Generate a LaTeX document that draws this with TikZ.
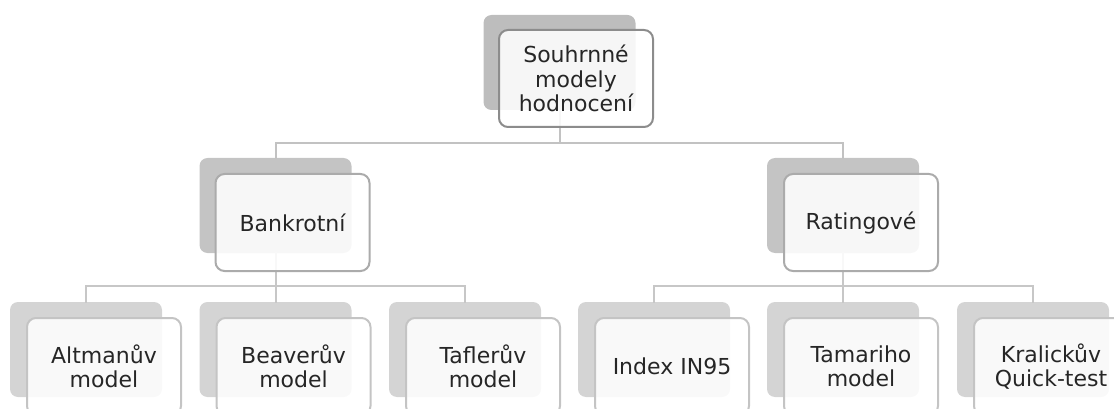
\documentclass[tikz,border=0pt]{standalone}
\usepackage{fontspec}
\setmainfont{DejaVu Sans}
\begin{document}
\begin{tikzpicture}[x=1pt,y=-1pt,
  back/.style={rectangle,rounded corners=8pt,minimum width=152pt,minimum height=95pt,inner sep=0pt},
  back0/.style={back,fill=black!26},
  back1/.style={back,fill=black!23},
  back2/.style={back,fill=black!17},
  card/.style={rectangle,rounded corners=9pt,minimum width=154pt,minimum height=97pt,inner sep=2pt,
    line width=2pt,fill=white,fill opacity=0.88,text opacity=1,text=black!85,align=center,
    font=\fontsize{22}{24.5}\selectfont},
  card0/.style={card,draw=black!45},
  card1/.style={card,draw=black!33},
  card2/.style={card,draw=black!23},
  link/.style={line width=2pt,line cap=rect},
  link0/.style={link,draw=black!24},
  link1/.style={link,draw=black!22},
]
\path[use as bounding box] (0,0) rectangle (1114,409);

% shadow plates
\node[back0] (s0) at (559.5,62.5) {};
\node[back1] (s1) at (275.5,205.5) {};
\node[back1] (s2) at (843,205.5) {};
\node[back2] (s11) at (86,349.5) {};
\node[back2] (s12) at (275.5,349.5) {};
\node[back2] (s13) at (465,349.5) {};
\node[back2] (s21) at (654,349.5) {};
\node[back2] (s22) at (843,349.5) {};
\node[back2] (s23) at (1033,349.5) {};

% bus lines
\coordinate (busA) at (0,143);
\coordinate (busB) at (0,286);

\draw[link0] (s0.south) |- (s1.north |- busA) -- (s1.north);
\draw[link0] (s0.south) |- (s2.north |- busA) -- (s2.north);
\foreach \c in {s11,s12,s13}
  \draw[link1] (s1.south) |- (\c.north |- busB) -- (\c.north);
\foreach \c in {s21,s22,s23}
  \draw[link1] (s2.south) |- (\c.north |- busB) -- (\c.north);

% front cards
\node[card0] (f0) at ([shift={(16.5,16)}]s0.center) {Souhrnné\\modely\\hodnocení};
\node[card1] (f1) at ([shift={(17,17)}]s1.center) {Bankrotní};
\node[card1] (f2) at ([shift={(18,17)}]s2.center) {Ratingové};
\node[card2] (f11) at ([shift={(18,17)}]s11.center) {Altmanův\\model};
\node[card2] (f12) at ([shift={(18,17)}]s12.center) {Beaverův\\model};
\node[card2] (f13) at ([shift={(18,17)}]s13.center) {Taflerův\\model};
\node[card2] (f21) at ([shift={(18,17)}]s21.center) {Index IN95};
\node[card2] (f22) at ([shift={(18,17)}]s22.center) {Tamariho\\model};
\node[card2] (f23) at ([shift={(18,17)}]s23.center) {Kralickův\\Quick-test};
\end{tikzpicture}
\end{document}
